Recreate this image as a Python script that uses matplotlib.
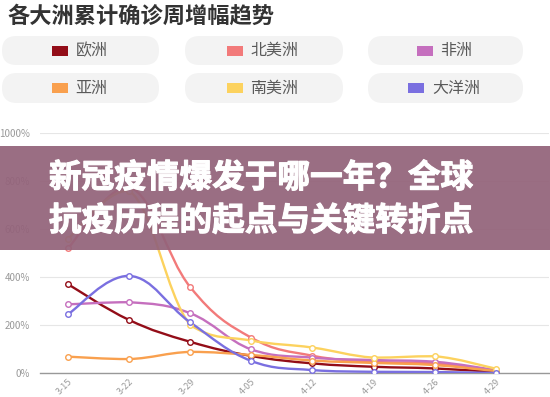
import numpy as np
import matplotlib
matplotlib.use('Agg')
import matplotlib.pyplot as plt
import matplotlib.patheffects as pe
from matplotlib.path import Path
from matplotlib.patches import PathPatch, FancyBboxPatch, Rectangle
from matplotlib.transforms import IdentityTransform

plt.rcParams['font.family'] = ['Noto Sans CJK SC', 'DejaVu Sans']

# data (weekly growth of cumulative confirmed cases, %)
weeks = ['3-15', '3-22', '3-29', '4-05', '4-12', '4-19', '4-26', '4-29']
continents = ['欧洲', '北美洲', '非洲', '亚洲', '南美洲', '大洋洲']
europe = [370, 221, 130, 71, 40, 26, 19, 4]
north_america = [520, 775, 358, 147, 72, 47, 40, 10]
africa = [286, 295, 249, 98, 64, 54, 47, 12]
asia = [68, 58, 88, 75, 52, 42, 33, 8]
south_america = [560, 760, 200, 135, 106, 64, 70, 18]
oceania = [245, 405, 211, 50, 12, 5, 4, 0]
series = [europe, north_america, africa, asia, south_america, oceania]
y_ticks = [0, 200, 400, 600, 800, 1000]

colors = ['#930d18', '#f27a7a', '#c56fbe', '#f9a04e', '#fcd25e', '#7a6fe0']

W, H = 550, 397


def smooth_path(xs, ys, k=0.2):
    # cubic bezier through the points, control points kept inside each segment
    n = len(xs)
    verts = [(xs[0], ys[0])]
    codes = [Path.MOVETO]
    for i in range(n - 1):
        x0, y0 = xs[i], ys[i]
        x1, y1 = xs[i + 1], ys[i + 1]
        xp, yp = (xs[i - 1], ys[i - 1]) if i > 0 else (x0, y0)
        xn, yn = (xs[i + 2], ys[i + 2]) if i + 2 < n else (x1, y1)
        c1x, c1y = x0 + (x1 - xp) * k, y0 + (y1 - yp) * k
        c2x, c2y = x1 - (xn - x0) * k, y1 - (yn - y0) * k
        lo, hi = min(y0, y1), max(y0, y1)
        c1y = min(max(c1y, lo), hi)
        c2y = min(max(c2y, lo), hi)
        verts += [(c1x, c1y), (c2x, c2y), (x1, y1)]
        codes += [Path.CURVE4] * 3
    return Path(verts, codes)


fig = plt.figure(figsize=(W / 100, H / 100), dpi=100)
fig.patch.set_facecolor('white')

ax = fig.add_axes([40 / W, 24 / H, 509 / W, 240 / H])
x = np.arange(len(weeks))
for vals, c in zip(series, colors):
    ax.add_patch(PathPatch(smooth_path(x, vals), fill=False, edgecolor=c, lw=1.7, zorder=3))
    ax.plot(x, vals, 'o', ms=4, mfc='white', mec=c, mew=1, zorder=4)

ax.set_xlim(-0.458, 7.87)
ax.set_ylim(0, 1000)
ax.set_yticks(y_ticks)
ax.set_yticklabels([f'{v}%' for v in y_ticks])
ax.set_xticks(x)
ax.set_xticklabels(weeks, rotation=45, ha='right', rotation_mode='anchor')
ax.tick_params(axis='both', length=0, labelcolor='#999999')
ax.tick_params(axis='y', pad=7, labelsize=7)
ax.tick_params(axis='x', pad=3, labelsize=6.5)
ax.grid(axis='y', color='#e6e6e6', lw=0.8)
ax.set_axisbelow(True)
for s in ['top', 'right', 'left']:
    ax.spines[s].set_visible(False)
ax.spines['bottom'].set_color('#999999')
ax.spines['bottom'].set_linewidth(1)

# title
fig.text(7 / W, 1 - 16 / H, '各大洲累计确诊周增幅趋势', fontsize=16, fontweight='bold',
         color='#333333', va='center', ha='left')

# legend pills
tr = IdentityTransform()
pill_x = [(2, 159), (185, 343), (368, 523)]
pill_y = [(36, 65), (73, 103)]
for i, (name, c) in enumerate(zip(continents, colors)):
    r, col = i // 3, i % 3
    x0, x1 = pill_x[col]
    y0, y1 = pill_y[r]
    h = y1 - y0
    fig.add_artist(FancyBboxPatch((x0, H - y1), x1 - x0, h,
                                  boxstyle=f'round,pad=0,rounding_size={h / 2}',
                                  facecolor='#f3f3f3', edgecolor='none', transform=tr))
    cx = (x0 + x1) / 2
    cy = H - (y0 + y1) / 2
    gw = 16 + 8 + len(name) * 17
    sx = cx - gw / 2
    fig.add_artist(Rectangle((sx, cy - 5), 16, 10, facecolor=c, edgecolor='none', transform=tr))
    fig.text((sx + 24) / W, cy / H, name, fontsize=11.5, color='#5a5a5a', va='center', ha='left')

# banner overlay
fig.add_artist(Rectangle((0, 1 - 250 / H), 1, 104 / H, transform=fig.transFigure,
                         facecolor='#93637a', edgecolor='none', alpha=0.93, zorder=5))
thick = [pe.withStroke(linewidth=0.8, foreground='white')]
fig.text(261 / W, 1 - 178 / H, '新冠疫情爆发于哪一年？全球', fontsize=23.5, fontweight='bold',
         color='white', ha='center', va='center', zorder=6, path_effects=thick)
fig.text(261 / W, 1 - 221 / H, '抗疫历程的起点与关键转折点', fontsize=23.5, fontweight='bold',
         color='white', ha='center', va='center', zorder=6, path_effects=thick)

fig.savefig('out.png', dpi=100)
